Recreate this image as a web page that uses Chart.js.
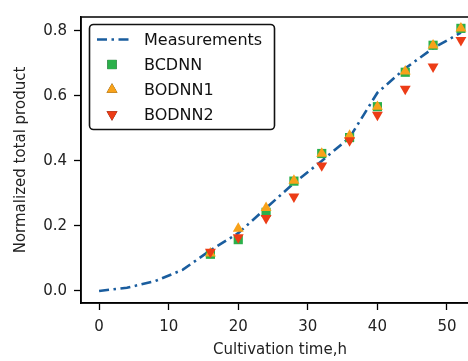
<!DOCTYPE html>
<html>
<head>
<meta charset="utf-8">
<script src="https://cdn.jsdelivr.net/npm/chart.js@4/dist/chart.umd.min.js"></script>
<style>
html,body{margin:0;padding:0;background:#fff;overflow:hidden;width:468px;height:361px;}
#wrap{position:absolute;left:0;top:0;width:500px;height:361px;}
</style>
</head>
<body>
<div id="wrap"><canvas id="c" width="500" height="361"></canvas></div>
<script>
// ---- data ----
const measTime = [0, 4, 8, 12, 16, 20, 24, 28, 32, 36, 40, 44, 48, 52];
const measValues = [0, 0.01, 0.03, 0.065, 0.125, 0.178, 0.255, 0.332, 0.400, 0.472, 0.610, 0.685, 0.747, 0.795];
const predTime = [16, 20, 24, 28, 32, 36, 40, 44, 48, 52];
const bcdnnValues = [0.113, 0.158, 0.242, 0.338, 0.423, 0.472, 0.567, 0.673, 0.756, 0.808];
const bodnn1Values = [0.116, 0.192, 0.256, 0.340, 0.423, 0.478, 0.567, 0.676, 0.756, 0.808];
const bodnn2Values = [0.120, 0.165, 0.224, 0.290, 0.386, 0.463, 0.542, 0.622, 0.690, 0.772];
const xTicks = [0, 10, 20, 30, 40, 50];
const yTicks = [0.0, 0.2, 0.4, 0.6, 0.8];
const seriesNames = ['Measurements', 'BCDNN', 'BODNN1', 'BODNN2'];

const toXY = (xs, ys) => xs.map((x, i) => ({x: x, y: ys[i]}));

const FONT = 'DejaVu Sans';
const colLine = '#1a5d9e', colG = '#2bb04a', colO = '#f8a21a', colR = '#ec3c16';

const framePlugin = {
  id: 'frame',
  afterDatasetsDraw(chart) {
    const {ctx, chartArea: a} = chart;
    ctx.save();
    ctx.strokeStyle = '#000';
    ctx.lineWidth = 1.5;
    ctx.strokeRect(a.left, a.top, a.right - a.left, a.bottom - a.top);
    ctx.restore();
  }
};

const legendPlugin = {
  id: 'boxLegend',
  afterDraw(chart) {
    const ctx = chart.ctx;
    const x0 = 89.5, y0 = 24.5, w = 185, h = 105, r = 4;
    ctx.save();
    ctx.fillStyle = 'rgba(255,255,255,0.9)';
    ctx.strokeStyle = '#111';
    ctx.lineWidth = 1.6;
    ctx.beginPath();
    ctx.roundRect(x0, y0, w, h, r);
    ctx.fill();
    ctx.stroke();
    const rows = [39.5, 64.5, 89.5, 114.5];
    ctx.font = '16px "' + FONT + '"';
    ctx.textBaseline = 'middle';
    ctx.fillStyle = '#111';
    chart.data.datasets.forEach((ds, i) => {
      const y = rows[i];
      if (i === 0) {
        ctx.strokeStyle = ds.borderColor;
        ctx.lineWidth = ds.borderWidth;
        ctx.setLineDash(ds.borderDash);
        ctx.beginPath();
        ctx.moveTo(97, y);
        ctx.lineTo(129, y);
        ctx.stroke();
        ctx.setLineDash([]);
      } else {
        Chart.helpers.drawPoint(ctx, {
          pointStyle: ds.pointStyle,
          radius: ds.pointRadius,
          rotation: ds.pointRotation || 0,
          borderWidth: 0
        }, 112, y);
        ctx.fillStyle = ds.backgroundColor;
        ctx.fill();
      }
      ctx.fillStyle = '#111';
      ctx.fillText(ds.label, 144, y + 1);
    });
    ctx.restore();
  }
};

new Chart(document.getElementById('c'), {
  type: 'line',
  data: {
    datasets: [
      {label: seriesNames[0], data: toXY(measTime, measValues), borderColor: colLine, backgroundColor: colLine,
       borderWidth: 2.6, borderDash: [10, 4.5, 2.5, 4.5], pointRadius: 0, tension: 0, order: 4},
      {label: seriesNames[1], data: toXY(predTime, bcdnnValues), showLine: false, pointStyle: 'rect',
       pointRadius: 6.5, backgroundColor: colG, borderColor: colG, pointBorderWidth: 0, order: 3},
      {label: seriesNames[2], data: toXY(predTime, bodnn1Values), showLine: false, pointStyle: 'triangle',
       pointRadius: 6.3, backgroundColor: colO, borderColor: colO, pointBorderWidth: 0, order: 2},
      {label: seriesNames[3], data: toXY(predTime, bodnn2Values), showLine: false, pointStyle: 'triangle',
       pointRotation: 180, pointRadius: 6.3, backgroundColor: colR, borderColor: colR, pointBorderWidth: 0, order: 1}
    ]
  },
  options: {
    responsive: false,
    animation: false,
    devicePixelRatio: 1,
    layout: {padding: {left: 0, right: 21, top: 17, bottom: 0}},
    plugins: {legend: {display: false}, tooltip: {enabled: false}},
    scales: {
      x: {
        type: 'linear', min: -2.6, max: 54.6,
        afterBuildTicks: s => { s.ticks = xTicks.map(v => ({value: v})); },
        afterFit: s => { s.height = 58; },
        grid: {drawOnChartArea: false, tickLength: 7, tickColor: '#000', tickWidth: 1.3},
        border: {display: true, color: '#000', width: 1.5},
        ticks: {color: '#222', padding: 8, font: {family: FONT, size: 15}, maxRotation: 0,
                callback: v => String(v)},
        title: {display: true, text: 'Cultivation time,h', color: '#222', font: {family: FONT, size: 15},
                padding: {top: 0, bottom: 2}}
      },
      y: {
        type: 'linear', min: -0.037, max: 0.843,
        afterBuildTicks: s => { s.ticks = yTicks.map(v => ({value: v})); },
        afterFit: s => { s.width = 81; },
        grid: {drawOnChartArea: false, tickLength: 7, tickColor: '#000', tickWidth: 1.3},
        border: {display: true, color: '#000', width: 1.5},
        ticks: {color: '#222', padding: 7, font: {family: FONT, size: 15},
                callback: v => v.toFixed(1)},
        title: {display: true, text: 'Normalized total product', color: '#222', font: {family: FONT, size: 15},
                padding: {top: 12, bottom: 0}}
      }
    }
  },
  plugins: [framePlugin, legendPlugin]
});
</script>
</body>
</html>
